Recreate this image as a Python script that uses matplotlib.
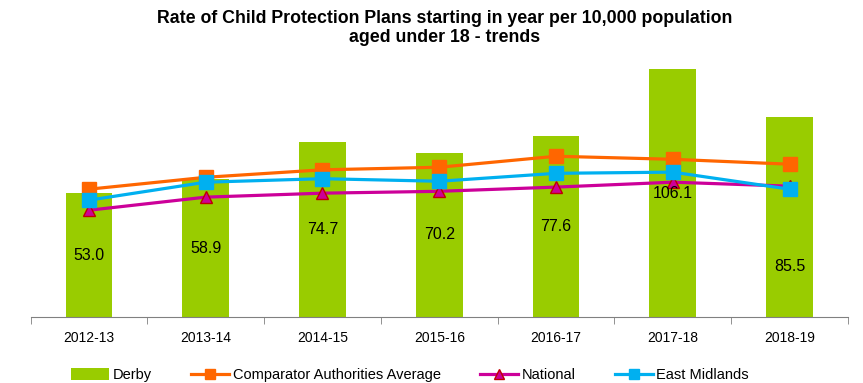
import numpy as np
import matplotlib.pyplot as plt
from matplotlib.lines import Line2D
from matplotlib.patches import Patch

plt.rcParams['font.family'] = ['Liberation Sans', 'DejaVu Sans']

years = ['2012-13', '2013-14', '2014-15', '2015-16', '2016-17', '2017-18', '2018-19']
derby = [53.0, 58.9, 74.7, 70.2, 77.6, 106.1, 85.5]
comparator = [54.7, 59.8, 63.0, 64.1, 68.8, 67.5, 65.4]
national = [45.7, 51.3, 53.0, 53.8, 55.6, 57.7, 56.0]
east_midlands = [50.0, 57.7, 59.2, 58.1, 61.5, 62.0, 54.7]

green = '#99CC00'
orange = '#FF6600'
magenta = '#CC0099'
blue = '#00B0F0'

fig = plt.figure(figsize=(8.63, 3.83), dpi=100)
ax = fig.add_axes([30.5 / 863, 66 / 383, 817.5 / 863, 257 / 383])

x = np.arange(len(years))
ax.bar(x, derby, width=0.4, color=green, zorder=1)

ax.plot(x, comparator, color=orange, lw=2.3, marker='s', ms=9.5,
        mec=orange, mfc=orange, zorder=3)
ax.plot(x, national, color=magenta, lw=2.3, marker='^', ms=9,
        mec='#C00000', mew=1, mfc=magenta, zorder=2)
ax.plot(x, east_midlands, color=blue, lw=2.3, marker='s', ms=9.5,
        mec=blue, mfc=blue, zorder=4)

# value labels sit in the middle of each bar, the last one pushed down
label_y = [v / 2 for v in derby]
label_y[-1] = 21.5
for xi, v, ly in zip(x, derby, label_y):
    ax.text(xi, ly, f'{v:.1f}', ha='center', va='center', fontsize=11.5,
            color='black', zorder=5)

ax.set_xlim(-0.5, len(years) - 0.5)
ax.set_ylim(0, 110)
ax.set_yticks([])
ax.set_xticks(x)
ax.set_xticklabels(years, fontsize=10)
ax.set_xticks(np.arange(len(years) + 1) - 0.5, minor=True)
ax.tick_params(axis='x', which='major', length=0, pad=10)
ax.tick_params(axis='x', which='minor', length=5, color='#808080')
for side in ['top', 'right', 'left']:
    ax.spines[side].set_visible(False)
ax.spines['bottom'].set_color('#808080')

fig.text(445 / 863, 1 - 28 / 383,
         'Rate of Child Protection Plans starting in year per 10,000 population\naged under 18 - trends',
         ha='center', va='center', fontsize=12.8, fontweight='bold', linespacing=1.12)

handles = [
    Patch(facecolor=green, edgecolor='none'),
    Line2D([], [], color=orange, lw=2.3, marker='s', ms=7, mfc=orange, mec=orange),
    Line2D([], [], color=magenta, lw=2.3, marker='^', ms=6.5, mfc=magenta, mec='#C00000'),
    Line2D([], [], color=blue, lw=2.3, marker='s', ms=7, mfc=blue, mec=blue),
]
labels = ['Derby', 'Comparator Authorities Average', 'National', 'East Midlands']
fig.legend(handles, labels, loc='center', bbox_to_anchor=(410 / 863, 1 - 375 / 383),
           ncol=4, frameon=False, fontsize=10.5, handlelength=2.6,
           handletextpad=0.25, columnspacing=2.7, handleheight=0.8)

fig.savefig('out.png', dpi=100)
